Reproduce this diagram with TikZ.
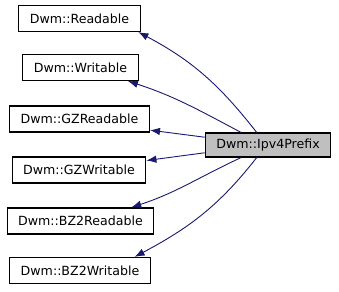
\documentclass[tikz,border=0pt]{standalone}
\usepackage{fontspec}
\setmainfont{DejaVu Sans}
\usetikzlibrary{arrows.meta}
\definecolor{colEdge}{RGB}{25,25,112}
\definecolor{colGray}{RGB}{191,191,191}
\tikzset{
    classbox/.style={rectangle, draw=black, line width=1.2pt, fill=white,
        inner xsep=11pt, inner ysep=0pt, minimum height=26pt,
        font=\fontsize{12.6}{15}\selectfont},
    arrow/.style={-{Latex[length=10pt,width=7.5pt]}, draw=colEdge, line width=0.9pt}
}

\begin{document}
\begin{tikzpicture}[x=1pt, y=1pt]

    \useasboundingbox (0,0) rectangle (339,-291);

    \node[classbox] (readable) at (79.5,-18.5) {Dwm::Readable};
    \node[classbox] (writable) at (80.5,-67.5) {Dwm::Writable};
    \node[classbox] (gzread) at (79.5,-119) {Dwm::GZReadable};
    \node[classbox] (gzwrite) at (79,-170) {Dwm::GZWritable};
    \node[classbox] (bzread) at (80.5,-221) {Dwm::BZ2Readable};
    \node[classbox] (bzwrite) at (80,-270.5) {Dwm::BZ2Writable};

    \node[classbox, fill=colGray, minimum height=24pt] (prefix) at (268,-145) {Dwm::Ipv4Prefix};

    \draw[arrow] (prefix.132) to[out=128, in=-28] (readable.-13);
    \draw[arrow] (prefix.155) to[out=152, in=-18] (writable.-16);
    \draw[arrow] (prefix.173) -- (gzread.-9);
    \draw[arrow] (prefix.187) -- (gzwrite.8);
    \draw[arrow] (prefix.205) to[out=205, in=18] (bzread.15);
    \draw[arrow] (prefix.228) to[out=232, in=28] (bzwrite.14);

\end{tikzpicture}
\end{document}
